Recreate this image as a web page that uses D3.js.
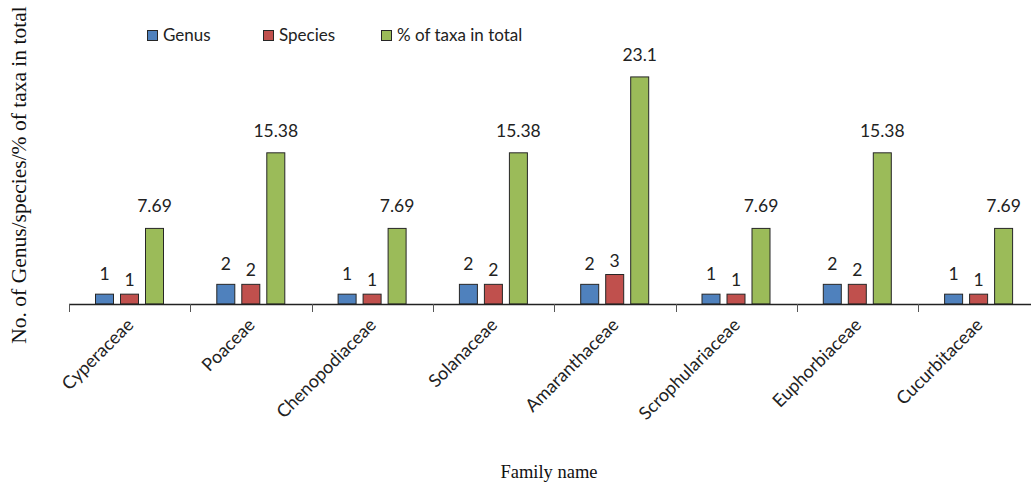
<!DOCTYPE html>
<html><head><meta charset="utf-8">
<script src="https://cdn.jsdelivr.net/npm/d3@7"></script>
<style>body{margin:0;background:#fff;}svg{display:block;}</style>
</head><body>
<svg id="chart" width="1031" height="490"></svg>
<script>
const categories = ["Cyperaceae","Poaceae","Chenopodiaceae","Solanaceae","Amaranthaceae","Scrophulariaceae","Euphorbiaceae","Cucurbitaceae"];
const seriesNames = ["Genus","Species","% of taxa in total"];
const genus = [1,2,1,2,2,1,2,1];
const species = [1,2,1,2,3,1,2,1];
const percentTaxa = [7.69,15.38,7.69,15.38,23.1,7.69,15.38,7.69];
const valueLabels = [
  ["1","2","1","2","2","1","2","1"],
  ["1","2","1","2","3","1","2","1"],
  ["7.69","15.38","7.69","15.38","23.1","7.69","15.38","7.69"]
];
const colors = ["#4f81bd","#c0504d","#9bbb59"];
const labelGap = [14,8,16];
const yTitle = "No. of Genus/species/% of taxa in total";
const xTitle = "Family name";

const seriesValues = [genus, species, percentTaxa];
const svg = d3.select("#chart");
const x0 = d3.scaleBand().domain(categories).range([69, 69 + 8*121.3]).paddingInner(0).paddingOuter(0);
const x1 = d3.scaleBand().domain(d3.range(3)).range([26.5, 94.5]).paddingInner(0.28).paddingOuter(0);
const y = d3.scaleLinear().domain([0, 25]).range([304, 304 - 25*9.83]);

const labelFont = "Lato, 'Open Sans', sans-serif";

// bars
categories.forEach((c, i) => {
  const g = svg.append("g").attr("transform", `translate(${x0(c)},0)`);
  seriesValues.forEach((vals, s) => {
    g.append("rect")
      .attr("x", x1(s)).attr("width", x1.bandwidth())
      .attr("y", y(vals[i])).attr("height", y(0) - y(vals[i]))
      .attr("fill", colors[s]).attr("stroke", "#262626").attr("stroke-width", 1);
    g.append("text")
      .attr("x", x1(s) + x1.bandwidth()/2)
      .attr("y", y(vals[i]) - labelGap[s])
      .attr("text-anchor", "middle")
      .attr("font-family", labelFont).attr("font-size", 17.5).attr("fill", "#222")
      .text(valueLabels[s][i]);
  });
});

// x axis
const ax = svg.append("g").attr("transform", `translate(0,${y(0)})`);
ax.append("line").attr("x1", 69).attr("x2", 1031).attr("y1", 0.5).attr("y2", 0.5).attr("stroke", "#222").attr("stroke-width", 1.3);
const tickPos = categories.map(c => x0(c));
ax.selectAll("line.tick").data(tickPos).enter().append("line")
  .attr("x1", d => Math.round(d)+0.5).attr("x2", d => Math.round(d)+0.5)
  .attr("y1", 0).attr("y2", 8).attr("stroke", "#555").attr("stroke-width", 1);
ax.selectAll("text.cat").data(categories).enter().append("text")
  .attr("transform", d => `translate(${x0(d) + x0.bandwidth()/2 + 5},${22}) rotate(-45)`)
  .attr("text-anchor", "end")
  .attr("font-family", labelFont).attr("font-size", 18).attr("fill", "#222")
  .text(d => d);

// legend
const legX = [147, 263, 381];
seriesNames.forEach((n, s) => {
  svg.append("rect").attr("x", legX[s] + 0.5).attr("y", 30.5).attr("width", 10).attr("height", 10)
    .attr("fill", colors[s]).attr("stroke", "#262626").attr("stroke-width", 1);
  svg.append("text").attr("x", legX[s] + 16).attr("y", 41)
    .attr("font-family", labelFont).attr("font-size", 17).attr("fill", "#222").text(n);
});

// titles
svg.append("text").attr("transform", "translate(26,175) rotate(-90)")
  .attr("text-anchor", "middle").attr("font-family", "'Liberation Serif', 'Times New Roman', serif")
  .attr("font-size", 21.5).attr("fill", "#111").text(yTitle);
svg.append("text").attr("x", 549).attr("y", 478)
  .attr("text-anchor", "middle").attr("font-family", "'Liberation Serif', 'Times New Roman', serif")
  .attr("font-size", 18.5).attr("fill", "#111").text(xTitle);
</script>
</body></html>
